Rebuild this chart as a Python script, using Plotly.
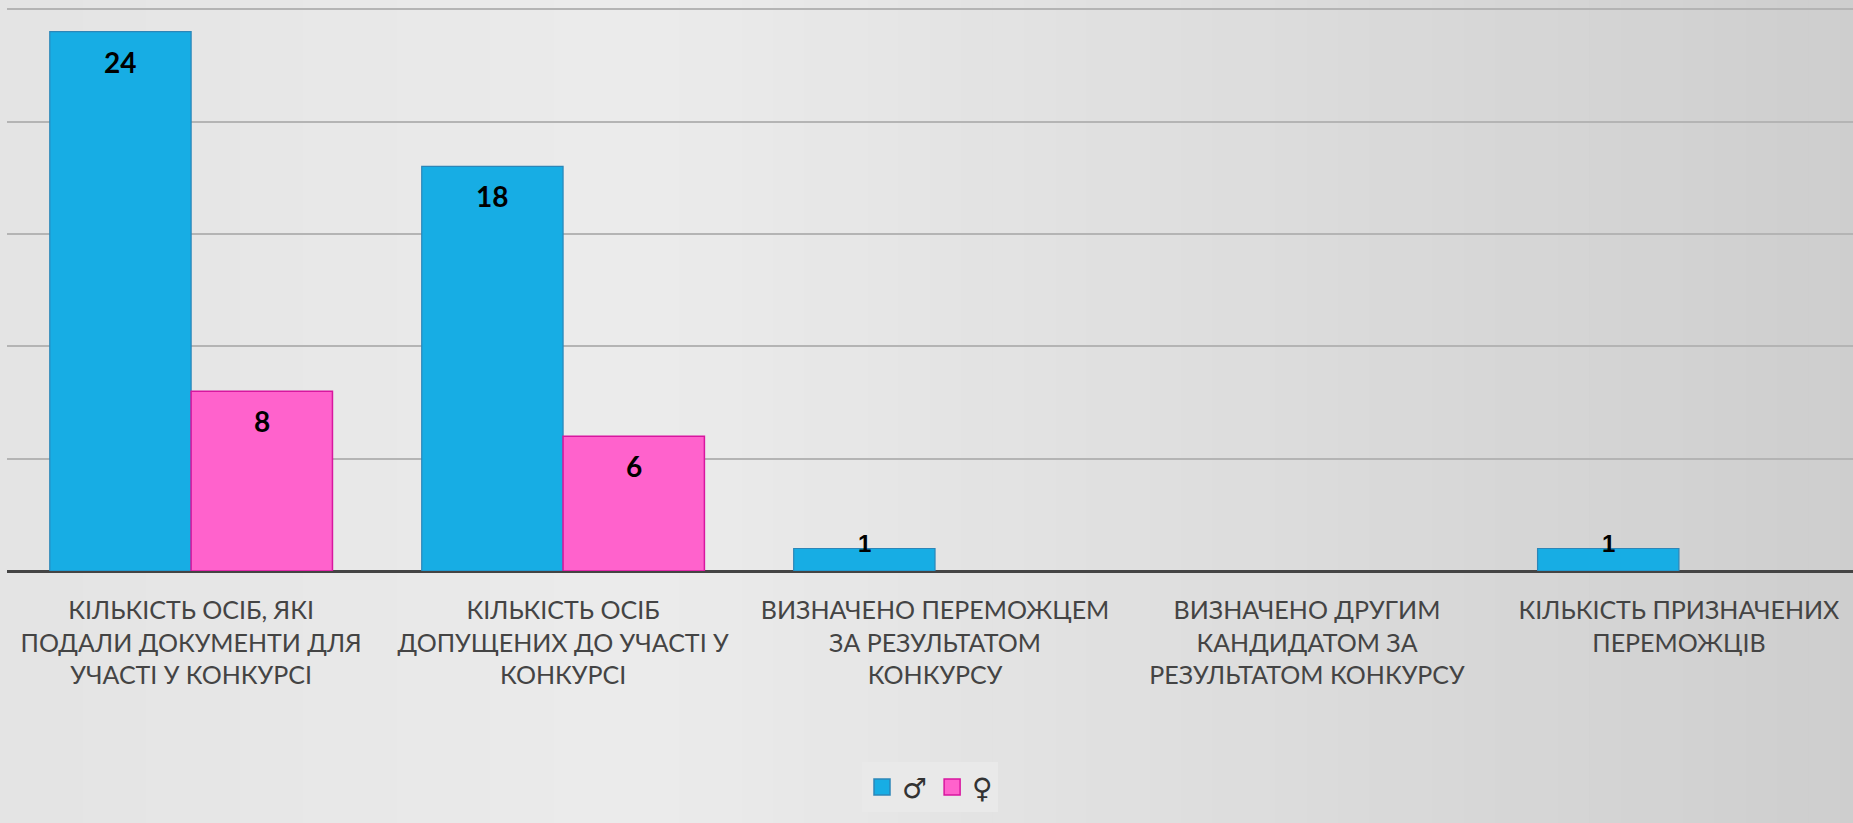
import plotly.graph_objects as go

categories = [
    "КІЛЬКІСТЬ ОСІБ, ЯКІ<br>ПОДАЛИ ДОКУМЕНТИ ДЛЯ<br>УЧАСТІ У КОНКУРСІ",
    "КІЛЬКІСТЬ ОСІБ<br>ДОПУЩЕНИХ ДО УЧАСТІ У<br>КОНКУРСІ",
    "ВИЗНАЧЕНО ПЕРЕМОЖЦЕМ<br>ЗА РЕЗУЛЬТАТОМ<br>КОНКУРСУ",
    "ВИЗНАЧЕНО ДРУГИМ<br>КАНДИДАТОМ ЗА<br>РЕЗУЛЬТАТОМ КОНКУРСУ",
    "КІЛЬКІСТЬ ПРИЗНАЧЕНИХ<br>ПЕРЕМОЖЦІВ",
]
male = [24, 18, 1, 0, 1]
female = [8, 6, 0, 0, 0]
series_names = ["♂", "♀"]

BLUE = "#17ADE4"
BLUE_LINE = "#2C86B8"
PINK = "#FF62CC"
PINK_LINE = "#D8169F"

xpos = list(range(len(categories)))
bargap = 0.24
bar_w = (1 - bargap) / 2

def nz(vals):
    return [v if v else None for v in vals]

fig = go.Figure()
fig.add_trace(go.Bar(x=xpos, y=nz(male), name=series_names[0], showlegend=False,
                     marker=dict(color=BLUE, line=dict(color=BLUE_LINE, width=1.2))))
fig.add_trace(go.Bar(x=xpos, y=nz(female), name=series_names[1], showlegend=False,
                     marker=dict(color=PINK, line=dict(color=PINK_LINE, width=1.5))))
# legend entries with larger square swatches
for nm, col, lc in ((series_names[0], BLUE, BLUE_LINE), (series_names[1], PINK, PINK_LINE)):
    fig.add_trace(go.Scatter(x=[None], y=[None], mode="markers", name=nm,
                             marker=dict(symbol="square", size=22, color=col,
                                         line=dict(color=lc, width=1.5))))

# value labels
annotations = []
for vals, off in ((male, -bar_w / 2), (female, bar_w / 2)):
    for i, v in enumerate(vals):
        if v <= 0:
            continue
        tall = v >= 3
        annotations.append(dict(
            x=i + off, y=v, xref="x", yref="y",
            text="<b>%d</b>" % v, showarrow=False,
            yanchor="middle", yshift=-30 if tall else 5,
            font=dict(family="Lato" if tall else "Liberation Sans",
                      size=28 if tall else 24, color="#000000"),
        ))

# background gradient (decorative)
shapes = []
n = 60
c_left, c_mid, c_right = (228, 228, 228), (236, 236, 236), (206, 206, 206)
for k in range(n):
    t = (k + 0.5) / n
    if t < 0.35:
        f = t / 0.35
        c = [int(c_left[j] + (c_mid[j] - c_left[j]) * f) for j in range(3)]
    else:
        f = (t - 0.35) / 0.65
        c = [int(c_mid[j] + (c_right[j] - c_mid[j]) * f) for j in range(3)]
    shapes.append(dict(type="rect", xref="paper", yref="paper", layer="below",
                       x0=-0.01 + k * 1.02 / n, x1=-0.01 + (k + 1) * 1.02 / n + 0.002,
                       y0=-0.5, y1=1.05, line=dict(width=0),
                       fillcolor="rgb(%d,%d,%d)" % tuple(c)))

fig.update_layout(
    width=1853, height=823,
    margin=dict(l=7, r=0, t=8, b=252, autoexpand=False),
    paper_bgcolor="#e2e2e2",
    plot_bgcolor="rgba(0,0,0,0)",
    barmode="group", bargap=bargap, bargroupgap=0,
    showlegend=True,
    legend=dict(orientation="h", x=0.5, xanchor="center", y=-0.34, yanchor="top",
                bgcolor="#e9e9e9", font=dict(family="DejaVu Sans", size=28, color="#333333"),
                itemwidth=30, traceorder="normal", itemsizing="trace"),
    xaxis=dict(range=[-0.495, 4.468], tickvals=xpos, ticktext=categories,
               showgrid=False, zeroline=False, showline=False, tickangle=0, automargin=False,
               ticks="outside", ticklen=0, ticklabelstandoff=17,
               tickfont=dict(family="Lato", size=25, color="#444444")),
    yaxis=dict(range=[0, 25.05], dtick=5, showticklabels=False, automargin=False,
               showgrid=True, gridcolor="#b4b4b4", gridwidth=2,
               zeroline=True, zerolinecolor="#444444", zerolinewidth=3),
    annotations=annotations,
    shapes=shapes,
)

fig.write_html("out.html", config={"displayModeBar": False},
               post_script="document.body.style.margin='0px';")
